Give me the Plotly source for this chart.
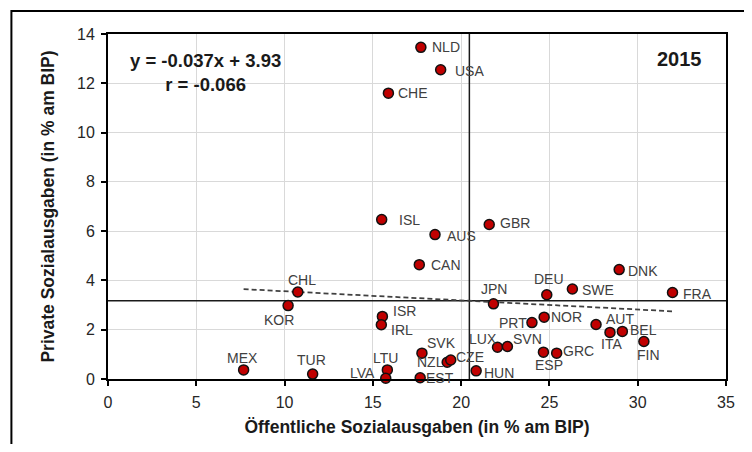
import plotly.graph_objects as go
import numpy as np

# ---------------- data ----------------
countries = ["NLD", "USA", "CHE", "ISL", "AUS", "GBR", "CAN", "DNK", "DEU", "SWE",
             "FRA", "JPN", "CHL", "KOR", "ISR", "IRL", "PRT", "NOR", "AUT", "ITA",
             "BEL", "FIN", "LUX", "SVN", "ESP", "GRC", "SVK", "NZL", "CZE", "HUN",
             "EST", "LTU", "LVA", "MEX", "TUR"]
public = [17.72, 18.84, 15.88, 15.50, 18.52, 21.59, 17.63, 28.95, 24.85, 26.30,
          31.97, 21.83, 10.75, 10.20, 15.54, 15.48, 24.01, 24.70, 27.64, 28.43,
          29.13, 30.35, 22.06, 22.62, 24.66, 25.41, 17.78, 19.21, 19.41, 20.85,
          17.68, 15.82, 15.73, 7.68, 11.59]
private = [13.46, 12.55, 11.60, 6.47, 5.86, 6.27, 4.64, 4.44, 3.42, 3.65,
           3.51, 3.05, 3.53, 2.98, 2.54, 2.20, 2.29, 2.51, 2.21, 1.89,
           1.93, 1.52, 1.29, 1.32, 1.09, 1.05, 1.05, 0.68, 0.77, 0.33,
           0.05, 0.37, 0.03, 0.37, 0.20]
slope = -0.037
intercept = 3.93
r_value = -0.066
year_label = "2015"
x_ticks = [0, 5, 10, 15, 20, 25, 30, 35]
y_ticks = [0, 2, 4, 6, 8, 10, 12, 14]
x_title = "Öffentliche Sozialausgaben (in % am BIP)"
y_title = "Private Sozialausgaben (in % am BIP)"

# ---------------- styles ----------------
FONT = "Arial, Liberation Sans, sans-serif"
# label centre offsets from the marker centre, in pixels (dx right, dy down)
label_offsets = {
    "NLD": (25, 0), "USA": (29, 1), "CHE": (25, 0), "ISL": (28, 0), "AUS": (26, 1),
    "GBR": (26, -1), "CAN": (27, 0), "DNK": (24, 1), "DEU": (2, -16), "SWE": (26, 1),
    "FRA": (25, 1), "JPN": (1, -15), "CHL": (4, -12), "KOR": (-9, 14), "ISR": (22, -5),
    "IRL": (21, 5), "PRT": (-19, 0), "NOR": (22, 0), "AUT": (24, -6), "ITA": (2, 12),
    "BEL": (21, -1), "FIN": (5, 13), "LUX": (-15, -8), "SVN": (20, -7), "ESP": (6, 13),
    "GRC": (22, -2), "SVK": (20, -10), "NZL": (-17, 0), "CZE": (19, -3), "HUN": (23, 2),
    "EST": (20, 0), "LTU": (-2, -12), "LVA": (-23, -5), "MEX": (-1, -12), "TUR": (-1, -14),
}

mean_x = float(np.mean(public))
mean_y = float(np.mean(private))
trend_x = [min(public), max(public)]
trend_y = [slope * v + intercept for v in trend_x]

fig = go.Figure()
fig.add_trace(go.Scatter(x=[x_ticks[0], x_ticks[-1]], y=[mean_y, mean_y], mode="lines",
                         line=dict(color="#1a1a1a", width=1.5), hoverinfo="skip", showlegend=False))
fig.add_trace(go.Scatter(x=[mean_x, mean_x], y=[y_ticks[0], y_ticks[-1]], mode="lines",
                         line=dict(color="#1a1a1a", width=1.5), hoverinfo="skip", showlegend=False))
fig.add_trace(go.Scatter(x=trend_x, y=trend_y, mode="lines",
                         line=dict(color="#404040", width=1.75, dash="5px,3px"),
                         hoverinfo="skip", showlegend=False))
fig.add_trace(go.Scatter(x=public, y=private, mode="markers", text=countries,
                         marker=dict(size=10, color="#C00000", line=dict(color="#111111", width=1.5)),
                         cliponaxis=False, showlegend=False))

for c, xv, yv in zip(countries, public, private):
    dx, dy = label_offsets[c]
    fig.add_annotation(x=xv, y=yv, xref="x", yref="y", text=c, showarrow=False,
                       xanchor="center", yanchor="middle", xshift=dx, yshift=-dy,
                       font=dict(family=FONT, size=14, color="#404040"))

fig.add_annotation(x=0.158, y=0.888, xref="paper", yref="paper",
                   text=f"<b>y = {slope}x + {intercept}</b><br><b>r = {r_value}</b>",
                   showarrow=False, align="center", xanchor="center", yanchor="middle",
                   font=dict(family=FONT, size=18.5, color="#1a1a1a"))
fig.add_annotation(x=0.925, y=0.928, xref="paper", yref="paper", text=f"<b>{year_label}</b>",
                   showarrow=False, xanchor="center", yanchor="middle",
                   font=dict(family=FONT, size=20, color="#1a1a1a"))

# outer frame
fig.add_shape(type="rect", xref="paper", yref="paper", x0=-0.1563, x1=1.2, y0=-0.4, y1=1.0667,
              line=dict(color="black", width=2), fillcolor="rgba(0,0,0,0)", layer="above")

axis_common = dict(showgrid=True, gridcolor="#D9D9D9", gridwidth=1.2, showline=True,
                   linecolor="black", linewidth=2, mirror=True, ticks="outside", ticklen=5,
                   tickwidth=1.5, tickcolor="black", zeroline=False, ticklabelstandoff=3,
                   tickfont=dict(family=FONT, size=16, color="#262626"))

# the page body adds an 8px margin, so the figure is sized to fill the 752x452 window exactly
fig.update_layout(
    width=736, height=436,
    margin=dict(l=100, r=9, t=26, b=65),
    plot_bgcolor="white", paper_bgcolor="white",
    xaxis=dict(range=[x_ticks[0], x_ticks[-1]], tickvals=x_ticks,
               title=dict(text=f"<b>{x_title}</b>", font=dict(family=FONT, size=17.5, color="#1a1a1a"),
                          standoff=11),
               **axis_common),
    yaxis=dict(range=[y_ticks[0], y_ticks[-1]], tickvals=y_ticks,
               title=dict(text=f"<b>{y_title}</b>", font=dict(family=FONT, size=17.5, color="#1a1a1a"),
                          standoff=18),
               **axis_common),
)

fig.write_html("out.html")
